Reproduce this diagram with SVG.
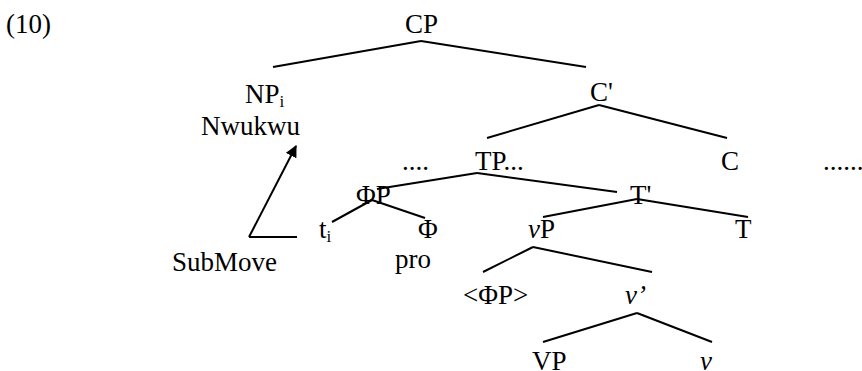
<svg xmlns="http://www.w3.org/2000/svg" width="862" height="371" viewBox="0 0 862 371">
<style>
text{font-family:"Liberation Serif","Times New Roman",serif;font-size:27px;fill:#000}
.sub{font-size:17px}
.it{font-style:italic}
line{stroke:#000;stroke-width:2}
</style>
<defs>
<marker id="ah" viewBox="0 0 10 10" refX="9" refY="5" markerWidth="6" markerHeight="6" orient="auto" markerUnits="strokeWidth">
<path d="M0,0 L10,5 L0,10 z" fill="#000"/>
</marker>
</defs>
<rect width="862" height="371" fill="#fff"/>
<text x="6" y="33">(10)</text>
<g id="CP"><text x="405" y="33">CP</text></g>
<g id="NP"><text x="245" y="103">NP<tspan class="sub" dy="4">i</tspan></text><text x="201" y="135">Nwukwu</text></g>
<g id="Cbar"><text x="590" y="101">C'</text></g>
<g id="dots1"><text x="402" y="170">....</text></g>
<g id="TP"><text x="475" y="170">TP...</text></g>
<g id="C"><text x="721" y="170">C</text></g>
<g id="dots2"><text x="823" y="170">......</text></g>
<g id="PhiP"><text x="356" y="204">ΦP</text></g>
<g id="Tbar"><text x="630" y="204">T'</text></g>
<g id="ti"><text x="319" y="238">t<tspan class="sub" dy="4">i</tspan></text></g>
<g id="Phi"><text x="418" y="238">Φ</text></g>
<g id="vP"><text x="528" y="238"><tspan class="it">v</tspan>P</text></g>
<g id="T"><text x="735" y="238">T</text></g>
<g id="SubMove"><text x="172" y="271">SubMove</text></g>
<g id="pro"><text x="395" y="268">pro</text></g>
<g id="PhiP2"><text x="463" y="304">&lt;ΦP&gt;</text></g>
<g id="vbar"><text class="it" x="625" y="304">v’</text></g>
<g id="VP"><text x="532" y="370">VP</text></g>
<g id="v"><text class="it" x="700" y="370">v</text></g>
<g id="connectors">
<line x1="273" y1="67" x2="421" y2="41"/>
<line x1="421" y1="41" x2="586" y2="67"/>
<line x1="487" y1="138" x2="599" y2="105"/>
<line x1="599" y1="105" x2="727" y2="138"/>
<line x1="377" y1="189" x2="477" y2="173"/>
<line x1="477" y1="173" x2="617" y2="192"/>
<line x1="332" y1="222" x2="372" y2="200"/>
<line x1="372" y1="200" x2="425" y2="218"/>
<line x1="543" y1="217" x2="637" y2="199"/>
<line x1="637" y1="199" x2="748" y2="217"/>
<line x1="483" y1="272" x2="533" y2="247"/>
<line x1="533" y1="247" x2="652" y2="272"/>
<line x1="543" y1="342" x2="637" y2="313"/>
<line x1="637" y1="313" x2="712" y2="342"/>
<line x1="297" y1="237" x2="249" y2="237"/>
<line x1="249" y1="237" x2="296" y2="146" marker-end="url(#ah)"/>
</g>
</svg>
